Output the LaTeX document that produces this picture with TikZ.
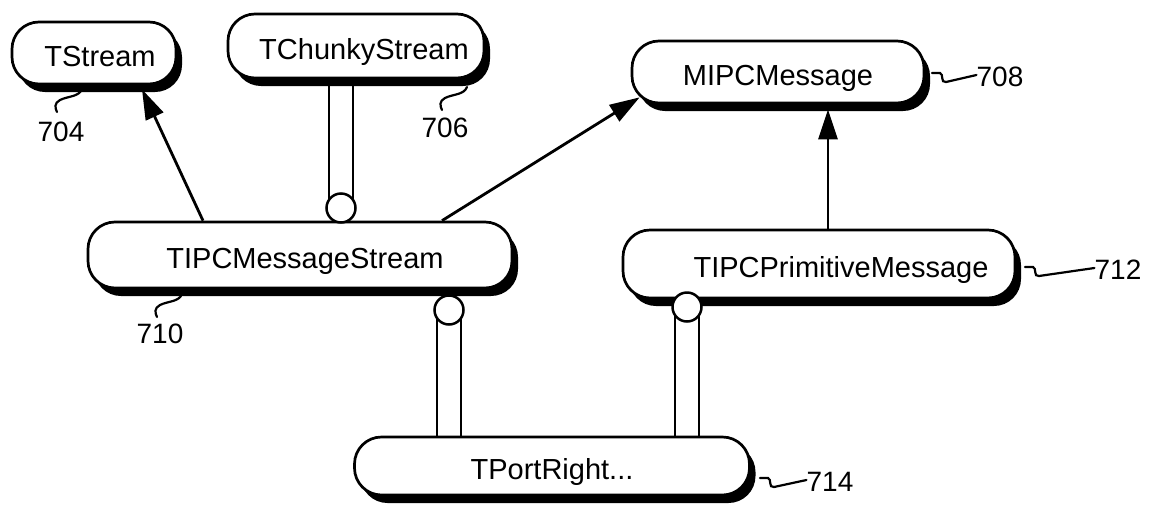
\documentclass[tikz,border=0pt]{standalone}
\usepackage{fontspec}
\setmainfont{Liberation Sans}
\usetikzlibrary{arrows.meta,shadows}
\begin{document}
\begin{tikzpicture}[x=1pt,y=-1pt,
  cls/.style={draw, line width=2.7pt, fill=white, rounded corners=27pt, inner sep=0pt,
     font=\fontsize{29}{34}\selectfont, text height=28pt, text depth=2pt,
     general shadow={fill=black, shadow xshift=6pt, shadow yshift=-8pt}},
  ref/.style={font=\fontsize{28}{32}\selectfont, inner sep=0pt},
  arr/.style={line width=2.8pt, -{Triangle[length=30pt,width=19pt]}},
  hasline/.style={line width=2.5pt},
  hascirc/.style={circle, draw, line width=2.5pt, fill=white, minimum size=29pt, inner sep=0pt},
  leader/.style={line width=2.2pt, line cap=round}]
\useasboundingbox (0,0) rectangle (1154,512);

% classes
\node[cls, minimum width=164pt, minimum height=62pt] (TStream) at (94,53) {\hspace*{12pt}TStream};
\node[cls, minimum width=256pt, minimum height=64pt] (TChunky) at (356,46) {\hspace*{16pt}TChunkyStream};
\node[cls, minimum width=292pt, minimum height=62pt] (MIPC) at (778,72) {MIPCMessage};
\node[cls, minimum width=424pt, minimum height=66pt] (TIPCMS) at (300,255) {\hspace*{10pt}TIPCMessageStream};
\node[cls, minimum width=392pt, minimum height=68pt] (TIPCPM) at (819,264) {\hspace*{44pt}TIPCPrimitiveMessage};
\node[cls, minimum width=395pt, minimum height=58pt] (TPort) at (552,466) {TPortRight...};

% reference numerals
\node[ref] (l704) at (61,132) {704};
\node[ref] (l706) at (445,128) {706};
\node[ref] (l708) at (1000,77) {708};
\node[ref] (l710) at (160,334) {710};
\node[ref] (l712) at (1118,270) {712};
\node[ref] (l714) at (830,482) {714};

% leader lines
\coordinate (s704) at (82,89);
\draw[leader] (s704) .. controls (79,97) and (68,96) .. (60,100) .. controls (54,103) and (55,108) .. (57,112);
\coordinate (s706) at (467,87);
\draw[leader] (s706) .. controls (464,95) and (453,94) .. (445,98) .. controls (439,101) and (440,106) .. (442,110);
\coordinate (s710) at (182,294);
\draw[leader] (s710) .. controls (179,302) and (168,301) .. (160,305) .. controls (154,308) and (155,313) .. (157,317);
\coordinate (s708) at (932,73);
\draw[leader] (s708) -- (940,73) .. controls (944,74) and (940,83) .. (946,82) -- ([yshift=2pt]l708.west);
\coordinate (s712) at (1025,267);
\draw[leader] (s712) -- (1033,267) .. controls (1037,268) and (1033,277) .. (1039,276) -- ([yshift=2pt]l712.west);
\coordinate (s714) at (760,478);
\draw[leader] (s714) -- (768,478) .. controls (772,479) and (768,488) .. (774,487) -- ([yshift=2pt]l714.west);

% inheritance arrows
\draw[arr] ([xshift=-97pt]TIPCMS.north) -- ([shift={(48pt,-4pt)}]TStream.south);
\draw[arr] ([xshift=142pt]TIPCMS.north) -- ([shift={(9pt,7pt)}]MIPC.south west);
\draw[arr] ([xshift=9pt]TIPCPM.north) -- ([shift={(50pt,-5pt)}]MIPC.south);

% has-a connectors
\coordinate (h1) at (341,208);
\coordinate (h1l) at ([xshift=-12pt]h1);
\coordinate (h1r) at ([xshift=12pt]h1);
\draw[hasline] (h1l) -- (h1l |- TChunky.south) (h1r) -- (h1r |- TChunky.south);
\node[hascirc] (c1) at (h1) {};

\coordinate (h2) at (449,310);
\coordinate (h2l) at ([xshift=-12pt]h2);
\coordinate (h2r) at ([xshift=12pt]h2);
\draw[hasline] (h2l) -- (h2l |- TPort.north) (h2r) -- (h2r |- TPort.north);
\node[hascirc] (c2) at (h2) {};

\coordinate (h3) at (687,307);
\coordinate (h3l) at ([xshift=-12pt]h3);
\coordinate (h3r) at ([xshift=12pt]h3);
\draw[hasline] (h3l) -- (h3l |- TPort.north) (h3r) -- (h3r |- TPort.north);
\node[hascirc] (c3) at (h3) {};
\end{tikzpicture}
\end{document}
